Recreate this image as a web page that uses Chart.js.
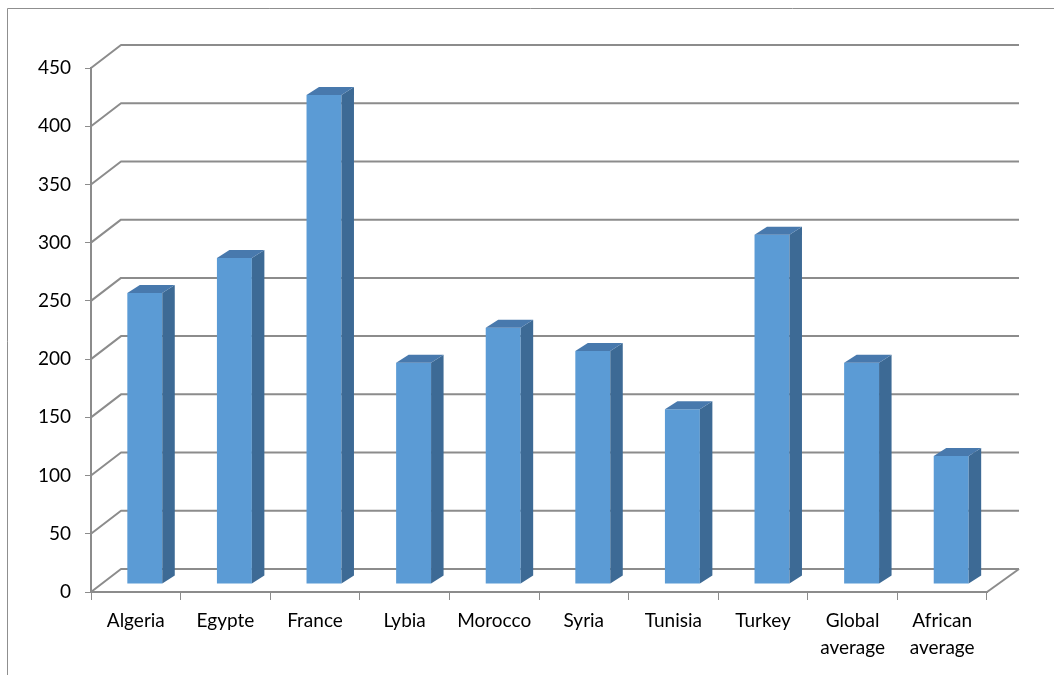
<!DOCTYPE html>
<html>
<head>
<meta charset="utf-8">
<script src="https://cdn.jsdelivr.net/npm/chart.js@4"></script>
<style>
    html, body { margin: 0; padding: 0; background: #fff; }
    canvas { display: block; }
</style>
</head>
<body>
<canvas id="countryChart" width="1054" height="675"></canvas>
<script>
//-- data
const countries = ["Algeria", "Egypte", "France", "Lybia", "Morocco", "Syria", "Tunisia", "Turkey", ["Global", "average"], ["African", "average"]];
const values = [250, 280, 420, 190, 220, 200, 150, 300, 190, 110];
const yTicks = [0, 50, 100, 150, 200, 250, 300, 350, 400, 450];

//-- look of the fake 3d
const gridColour = "#8c8c8c";
const frontColour = "#5b9bd5";
const sideColour = "#3d6a95";
const topColour = "#4879ad";
const wallDx = 32;   // how far back the back wall goes
const wallDy = 23;
const barDx = 9;     // bars sit a bit into the floor
const barDy = 8;
const depthDx = 12.5;
const depthDy = 8;

var outerFrame = {
    id: "outerFrame",
    beforeDraw: function(chart) {
        let ctx = chart.ctx;
        ctx.save();
        ctx.strokeStyle = "#8f8f8f";
        ctx.lineWidth = 1;
        ctx.beginPath();
        ctx.moveTo(7.5, 675);
        ctx.lineTo(7.5, 8.5);
        ctx.lineTo(1054, 8.5);
        ctx.stroke();
        ctx.restore();
    }
};

var walls = {
    id: "walls",
    beforeDatasetsDraw: function(chart) {
        let ctx = chart.ctx;
        let y = chart.scales.y;
        let area = chart.chartArea;
        ctx.save();
        ctx.strokeStyle = gridColour;
        ctx.lineWidth = 2;
        ctx.lineJoin = "round";
        for (let i = 0; i < yTicks.length; i++) {
            let py = y.getPixelForValue(yTicks[i]);
            ctx.beginPath();
            ctx.moveTo(area.left, py);
            ctx.lineTo(area.left + wallDx - 2, py - wallDy);
            ctx.lineTo(area.right + wallDx, py - wallDy);
            ctx.stroke();
        }
        //right edge of the floor
        let p0 = y.getPixelForValue(0);
        ctx.beginPath();
        ctx.moveTo(area.right, p0);
        ctx.lineTo(area.right + wallDx, p0 - wallDy);
        ctx.stroke();
        ctx.restore();

        //front faces get drawn by chart.js, pushed back into the box
        ctx.save();
        ctx.translate(barDx, -barDy);
    },
    afterDatasetsDraw: function(chart) {
        let ctx = chart.ctx;
        let bars = chart.getDatasetMeta(0).data;
        for (let i = 0; i < bars.length; i++) {
            let b = bars[i];
            let l = b.x - b.width / 2;
            let r = b.x + b.width / 2;
            //side
            ctx.fillStyle = sideColour;
            ctx.beginPath();
            ctx.moveTo(r, b.y);
            ctx.lineTo(r + depthDx, b.y - depthDy);
            ctx.lineTo(r + depthDx, b.base - depthDy);
            ctx.lineTo(r, b.base);
            ctx.closePath();
            ctx.fill();
            //top
            ctx.fillStyle = topColour;
            ctx.beginPath();
            ctx.moveTo(l, b.y);
            ctx.lineTo(l + depthDx, b.y - depthDy);
            ctx.lineTo(r + depthDx, b.y - depthDy);
            ctx.lineTo(r, b.y);
            ctx.closePath();
            ctx.fill();
        }
        ctx.restore();
    }
};

var chart = new Chart(document.getElementById("countryChart"), {
    type: "bar",
    data: {
        labels: countries,
        datasets: [{
            data: values,
            backgroundColor: frontColour,
            borderWidth: 0,
            barPercentage: 0.39,
            categoryPercentage: 1,
            clip: false
        }]
    },
    options: {
        responsive: false,
        devicePixelRatio: 1,
        animation: false,
        layout: { padding: { left: 0, top: 68, right: 67, bottom: 0 } },
        plugins: {
            legend: { display: false },
            tooltip: { enabled: false }
        },
        scales: {
            x: {
                afterFit: function(s) { s.height = 83; },
                border: { display: true, color: gridColour, width: 2 },
                grid: { offset: true, drawOnChartArea: false, drawTicks: true, tickLength: 8, color: gridColour, lineWidth: 1 },
                ticks: { color: "#000", padding: 7, maxRotation: 0, autoSkip: false, font: { family: "Lato", size: 19, lineHeight: 1.42 } }
            },
            y: {
                min: 0,
                max: 450,
                afterFit: function(s) { s.width = 91; },
                border: { display: true, color: gridColour, width: 2 },
                grid: { drawOnChartArea: false, drawTicks: true, tickLength: 6, color: gridColour, lineWidth: 1 },
                afterBuildTicks: function(s) { s.ticks = yTicks.map(v => ({ value: v })); },
                ticks: { color: "#000", padding: 14, font: { family: "Lato", size: 19 } }
            }
        }
    },
    plugins: [outerFrame, walls]
});
</script>
</body>
</html>
